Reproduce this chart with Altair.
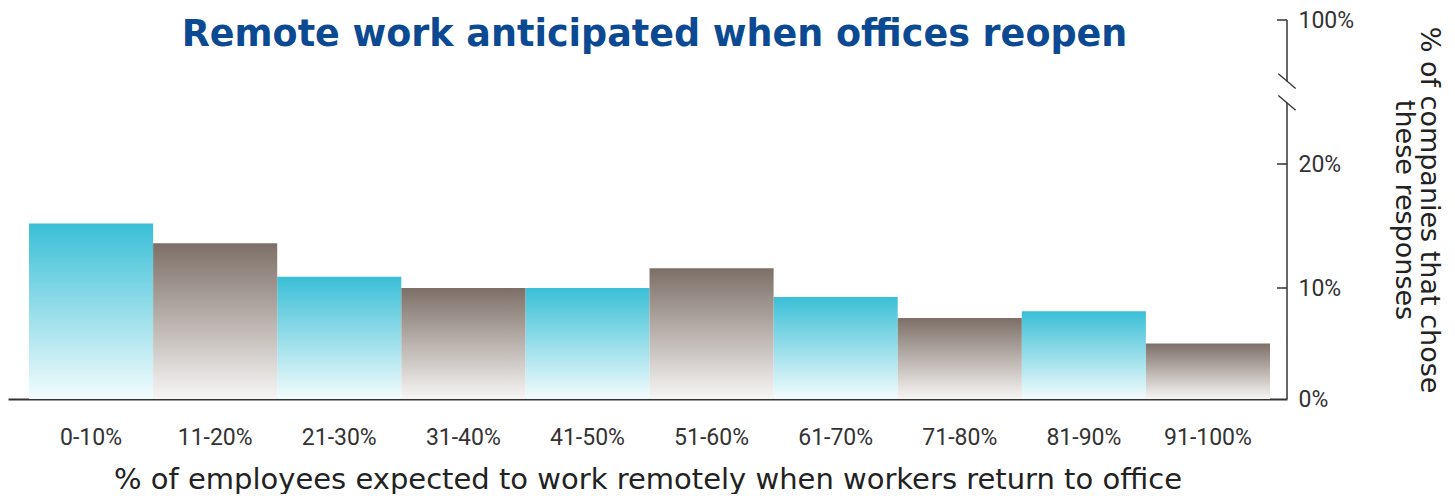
import altair as alt
import pandas as pd

# ---- data ----
categories = ["0-10%", "11-20%", "21-30%", "31-40%", "41-50%",
              "51-60%", "61-70%", "71-80%", "81-90%", "91-100%"]
shares = [15.2, 13.6, 10.9, 10.0, 10.0, 11.6, 9.2, 7.3, 7.9, 5.0]
y_tick_values = [0, 10, 20, 100]
y_break_values = [54, 66]          # where the y axis is broken
title_text = "Remote work anticipated when offices reopen"
x_title = "% of employees expected to work remotely when workers return to office"
y_title = ["% of companies that chose", "these responses"]

W, H = 1279, 391

df = pd.DataFrame({"range": categories, "share": shares,
                   "idx": list(range(len(categories)))})
tick_df = pd.DataFrame({"share": [v for v in y_tick_values if v > 0]})
seg_df = pd.DataFrame({"share": [0, y_break_values[1]], "b": [y_break_values[0], 100]})
brk_df = pd.DataFrame({"share": y_break_values})

yscale = alt.Scale(domain=[0, 10, 20, 100], range=[H, 280, 156, 12],
                   nice=False, zero=False)
xscale = alt.Scale(domain=categories, paddingInner=0, paddingOuter=0.153, align=0.553)

x_axis = alt.Axis(title=x_title, labelFont="Roboto", labelFontSize=23,
                  labelColor="#333333", ticks=False, tickSize=0, labelPadding=27,
                  domainColor="#333333", domainWidth=2, labelAngle=0,
                  titleFont="DejaVu Sans", titleFontSize=29, titleFontWeight="normal",
                  titleColor="#222222", titlePadding=16)
y_axis = alt.Axis(title=y_title, orient="right", values=y_tick_values,
                  labelExpr="datum.value + '%'", ticks=False, domain=False, grid=False,
                  labelFont="Roboto", labelFontSize=23, labelColor="#333333",
                  labelPadding=11, titleFont="DejaVu Sans", titleFontSize=27,
                  titleFontWeight="normal", titleColor="#222222",
                  titleLineHeight=25, titlePadding=36)

def grad(top, bottom):
    return alt.LinearGradient(gradient="linear", x1=0, y1=0, x2=0, y2=1,
                              stops=[alt.GradientStop(offset=0, color=top),
                                     alt.GradientStop(offset=1, color=bottom)])

Y = alt.Y("share:Q", scale=yscale, axis=y_axis)

base = alt.Chart(df)
bars_a = base.transform_filter("datum.idx % 2 == 0").mark_bar(
    color=grad("#3ABFD6", "#F3FCFD")).encode(
    x=alt.X("range:N", sort=categories, scale=xscale, axis=x_axis), y=Y)
bars_b = base.transform_filter("datum.idx % 2 == 1").mark_bar(
    color=grad("#7D6F67", "#F7F6F5")).encode(
    x=alt.X("range:N", sort=categories, scale=xscale, axis=x_axis), y=Y)

ticks = alt.Chart(tick_df).mark_rule(color="#333333", strokeWidth=1.5).encode(
    y=Y, x=alt.value(W - 10), x2=alt.value(W))
segs = alt.Chart(seg_df).mark_rule(color="#333333", strokeWidth=1.5).encode(
    y=Y, y2="b:Q", x=alt.value(W))
slashes = alt.Chart(brk_df).mark_point(
    shape="M-1,-0.85L1,0.85", filled=False, stroke="#333333",
    strokeWidth=1.3, size=300, opacity=1).encode(y=Y, x=alt.value(W))

chart = alt.layer(bars_a, bars_b, ticks, segs, slashes).properties(
    width=W, height=H, padding=0,
    title=alt.TitleParams(title_text, font="DejaVu Sans", fontSize=36.5, fontWeight="bold",
                          color="#0B4A92", anchor="middle", offset=-74,
                          baseline="alphabetic", dx=7)
).configure_view(stroke=None)

chart.save("out.html", embed_options={"renderer": "svg", "actions": False})
